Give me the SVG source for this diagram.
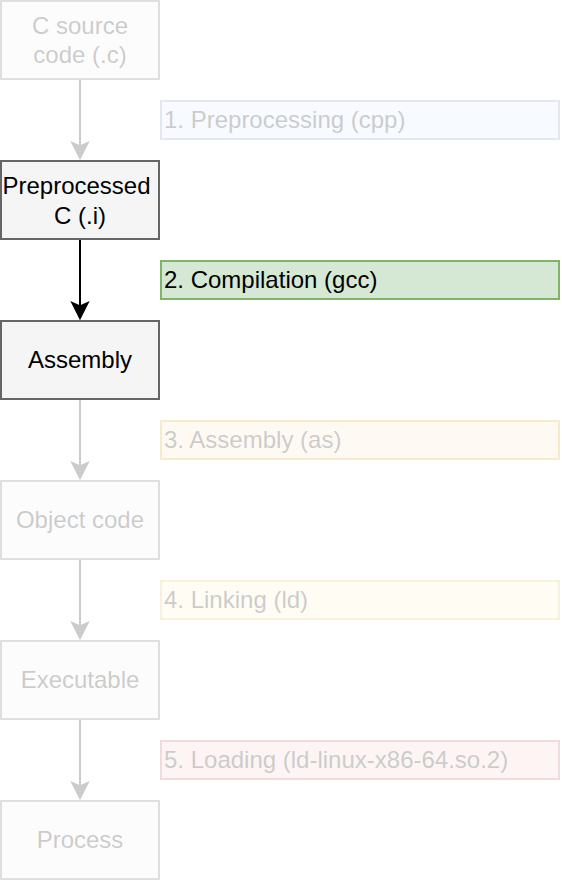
<svg xmlns="http://www.w3.org/2000/svg" width="562" height="882" viewBox="0 0 562 882">
<style>
.node rect{fill:#f5f5f5;stroke:#666666;stroke-width:2}
.node text{font-family:"Liberation Sans",Arial,sans-serif;font-size:24px;fill:#000;text-anchor:middle}
.lbl rect{stroke-width:2}
.lbl text{font-family:"Liberation Sans",Arial,sans-serif;font-size:24px;fill:#000}
.faded{opacity:0.2}
.edge line{stroke:#000;stroke-width:2}
.edge path{fill:#000;stroke:#000;stroke-width:2;stroke-linejoin:miter}
</style>
<rect width="562" height="882" fill="#ffffff"/>
<g id="connectors">
<g class="edge faded"><line x1="80" y1="80" x2="80" y2="147"/><path d="M80,158 L72.5,143 L80,146.5 L87.5,143 Z"/></g>
<g class="edge"><line x1="80" y1="240" x2="80" y2="307"/><path d="M80,318 L72.5,303 L80,306.5 L87.5,303 Z"/></g>
<g class="edge faded"><line x1="80" y1="400" x2="80" y2="467"/><path d="M80,478 L72.5,463 L80,466.5 L87.5,463 Z"/></g>
<g class="edge faded"><line x1="80" y1="560" x2="80" y2="627"/><path d="M80,638 L72.5,623 L80,626.5 L87.5,623 Z"/></g>
<g class="edge faded"><line x1="80" y1="720" x2="80" y2="787"/><path d="M80,798 L72.5,783 L80,786.5 L87.5,783 Z"/></g>
</g>
<g id="n-source" class="node faded"><rect x="1" y="1" width="158" height="78"/><text x="80" y="33.5">C source</text><text x="80" y="63">code (.c)</text></g>
<g id="n-pre" class="node"><rect x="1" y="161" width="158" height="78"/><text x="76.5" y="194">Preprocessed</text><text x="80" y="224">C (.i)</text></g>
<g id="n-asm" class="node"><rect x="1" y="321" width="158" height="78"/><text x="80" y="367.5">Assembly</text></g>
<g id="n-obj" class="node faded"><rect x="1" y="481" width="158" height="78"/><text x="80" y="527.5">Object code</text></g>
<g id="n-exe" class="node faded"><rect x="1" y="641" width="158" height="78"/><text x="80" y="687.5">Executable</text></g>
<g id="n-proc" class="node faded"><rect x="1" y="801" width="158" height="78"/><text x="80" y="847.5">Process</text></g>
<g id="l1" class="lbl faded"><rect x="161" y="101" width="398" height="38" fill="#dae8fc" stroke="#6c8ebf"/><text x="164" y="127.5">1. Preprocessing (cpp)</text></g>
<g id="l2" class="lbl"><rect x="161" y="261" width="398" height="38" fill="#d5e8d4" stroke="#82b366"/><text x="164" y="287.5">2. Compilation (gcc)</text></g>
<g id="l3" class="lbl faded"><rect x="161" y="421" width="398" height="38" fill="#ffe6cc" stroke="#d79b00"/><text x="164" y="447.5">3. Assembly (as)</text></g>
<g id="l4" class="lbl faded"><rect x="161" y="581" width="398" height="38" fill="#fff2cc" stroke="#d6b656"/><text x="164" y="607.5">4. Linking (ld)</text></g>
<g id="l5" class="lbl faded"><rect x="161" y="741" width="398" height="38" fill="#f8cecc" stroke="#b85450"/><text x="164" y="767.5">5. Loading (ld-linux-x86-64.so.2)</text></g>
</svg>
